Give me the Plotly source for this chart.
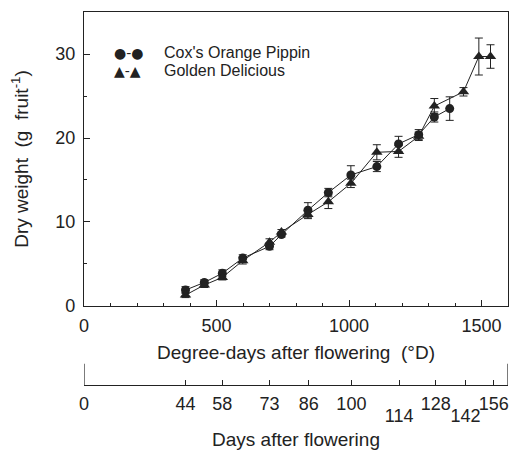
import plotly.graph_objects as go

# degree-days after flowering, dry weight (g/fruit) and error
dd_cox = [383, 454, 522, 599, 700, 745, 845, 922, 1007, 1105, 1187, 1263, 1322, 1380]
wt_cox = [1.9, 2.8, 3.9, 5.7, 7.1, 8.5, 11.4, 13.5, 15.6, 16.6, 19.3, 20.4, 22.5, 23.5]
err_cox = [0.4, 0.3, 0.4, 0.4, 0.4, 0.3, 0.9, 0.5, 1.1, 0.6, 0.9, 0.6, 0.6, 1.4]

dd_gold = [383, 454, 522, 599, 700, 745, 845, 922, 1007, 1105, 1187, 1263, 1322, 1432, 1490, 1534]
wt_gold = [1.3, 2.5, 3.4, 5.4, 7.6, 8.8, 10.9, 12.4, 14.6, 18.3, 18.4, 20.2, 23.8, 25.5, 29.7, 29.7]
err_gold = [0.3, 0.3, 0.3, 0.4, 0.4, 0.3, 0.5, 0.8, 0.5, 0.9, 0.7, 0.5, 0.9, 0.5, 2.2, 1.4]

# days after flowering and their position on the degree-day scale
days = [0, 44, 58, 73, 86, 100, 114, 128, 142, 156]
days_dd = [0, 383, 522, 700, 848, 1009, 1189, 1327, 1440, 1546]
days_low = [114, 142]  # labels printed one row lower

FONT = "Liberation Sans, Arial, sans-serif"
INK = "#222222"

fig = go.Figure()
fig.add_trace(go.Scatter(
    x=dd_cox, y=wt_cox, mode="lines+markers", name="Cox's Orange Pippin",
    line=dict(color=INK, width=1),
    marker=dict(symbol="circle", size=9, color=INK),
    error_y=dict(type="data", array=err_cox, color=INK, thickness=1, width=4),
))
fig.add_trace(go.Scatter(
    x=dd_gold, y=wt_gold, mode="lines+markers", name="Golden Delicious",
    line=dict(color=INK, width=1),
    marker=dict(symbol="triangle-up", size=10, color=INK),
    error_y=dict(type="data", array=err_gold, color=INK, thickness=1, width=4),
))
# invisible traces to carry the days axes
for ax in ["x2", "x3"]:
    fig.add_trace(go.Scatter(x=[0, 1600], y=[None, None], xaxis=ax, showlegend=False,
                             hoverinfo="skip"))

top_dd = [p for d, p in zip(days, days_dd) if d not in days_low]
top_text = [str(d) for d in days if d not in days_low]
low_dd = [p for d, p in zip(days, days_dd) if d in days_low]
low_text = [str(d) for d in days if d in days_low]

fig.update_layout(
    width=513, height=450,
    margin=dict(l=84, r=5, t=12, b=8),
    plot_bgcolor="white", paper_bgcolor="white",
    font=dict(family=FONT, size=18, color=INK),
    showlegend=False,
    xaxis=dict(
        range=[0, 1600], showline=True, linecolor=INK, linewidth=1.2, mirror=True,
        showgrid=False, zeroline=False, automargin=False,
        tickvals=[0, 500, 1000, 1500], ticks="inside", ticklen=6, tickcolor=INK,
        minor=dict(dtick=100, ticks="inside", ticklen=3, tickcolor=INK),
        ticklabelstandoff=3, tickangle=0,
        title=dict(text="Degree-days after flowering  (°D)", standoff=11,
                   font=dict(size=19)),
        anchor="y",
    ),
    yaxis=dict(
        range=[0, 35], domain=[0.3163, 1], showline=True, linecolor=INK,
        linewidth=1.2, mirror=True, showgrid=False, zeroline=False, automargin=False,
        tickvals=[0, 10, 20, 30], ticks="inside", ticklen=6, tickcolor=INK,
        minor=dict(dtick=5, ticks="inside", ticklen=3, tickcolor=INK),
        ticklabelstandoff=4,
        title=dict(text="Dry weight  (g  fruit<sup>-1</sup>)", standoff=21,
                   font=dict(size=19)),
    ),
    xaxis2=dict(
        range=[0, 1600], anchor="free", position=0.1326, overlaying="x",
        side="bottom", showline=True, linecolor=INK, linewidth=1,
        showgrid=False, zeroline=False, automargin=False,
        tickvals=top_dd, ticktext=top_text, ticks="inside", ticklen=5,
        tickcolor=INK, ticklabelstandoff=2, tickangle=0,
        title=dict(text="Days after flowering", standoff=22, font=dict(size=19)),
    ),
    # same line as xaxis2, labels pushed one row down
    xaxis3=dict(
        range=[0, 1600], anchor="free", position=0.1326, overlaying="x",
        side="bottom", showline=False, showgrid=False, zeroline=False,
        automargin=False, tickvals=low_dd, ticktext=low_text, ticks="inside",
        ticklen=5, tickcolor=INK, ticklabelstandoff=18, tickangle=0,
    ),
)

# end bars of the days axis
for xe in [0, 1600]:
    fig.add_shape(type="line", xref="x", yref="paper", x0=xe, x1=xe,
                  y0=0.1326, y1=0.182, line=dict(color=INK, width=1.2))

# legend drawn as text, like the original key
fig.add_annotation(x=0.066, y=0.905, xref="paper", yref="paper", xanchor="left",
                   yanchor="middle", text="●-●", showarrow=False,
                   font=dict(size=14, family="DejaVu Sans"))
fig.add_annotation(x=0.184, y=0.905, xref="paper", yref="paper", xanchor="left",
                   yanchor="middle", text="Cox's Orange Pippin", showarrow=False,
                   font=dict(size=16))
fig.add_annotation(x=0.066, y=0.863, xref="paper", yref="paper", xanchor="left",
                   yanchor="middle", text="▲-▲", showarrow=False,
                   font=dict(size=14, family="DejaVu Sans"))
fig.add_annotation(x=0.184, y=0.863, xref="paper", yref="paper", xanchor="left",
                   yanchor="middle", text="Golden Delicious", showarrow=False,
                   font=dict(size=16))

# page body has a default 8px margin; drop it so the figure fills the window
fig.write_html("out.html", config={"displayModeBar": False},
               post_script="document.body.style.margin='0';")
